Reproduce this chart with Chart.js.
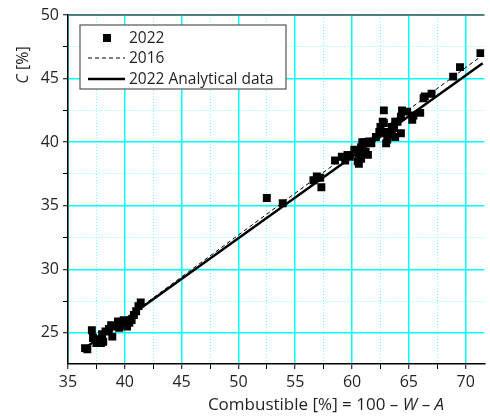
<!DOCTYPE html>
<html>
  <head>
    <title>C vs Combustible</title>
    <style>
      body { margin: 0; background: #fff; }
    </style>
  </head>
  <body>
    <canvas id="chart" width="490" height="419"></canvas>
    <script src="https://cdn.jsdelivr.net/npm/chart.js@4.4.0/dist/chart.umd.min.js"></script>
    <script>
      // measured points, 2022
      const combustible2022 = [
        36.5, 36.7, 37.1, 37.2, 37.5, 37.6, 37.9, 38.0, 38.1, 38.3, 38.6, 38.8, 38.9, 39.2, 39.4, 39.5, 39.7, 39.9, 40.2, 40.4, 40.6, 40.8, 41.0, 41.2, 41.4,
        52.5, 53.9, 56.6, 56.9, 57.2, 57.3,
        58.5, 59.1, 59.4, 59.6, 59.8, 60.2, 60.5, 60.6, 60.6, 60.8, 60.8, 60.9, 61.1, 61.2, 61.4, 61.5, 61.7, 62.1, 62.4, 62.5, 62.5, 62.7, 62.8, 62.8, 63.0,
        63.1, 63.1, 63.5, 63.5, 63.7, 63.8, 63.8, 64.0, 64.3, 64.3, 64.4, 64.85, 65.3, 65.4, 66.0, 66.3, 66.4, 67.0, 68.9, 69.5, 71.3
      ];
      const carbon2022 = [
        23.8, 23.7, 25.2, 24.6, 24.2, 24.5, 24.2, 24.9, 24.3, 25.1, 25.3, 25.6, 24.7, 25.5, 25.9, 25.4, 25.8, 26.0, 25.5, 25.8, 26.0, 26.4, 26.7, 27.1, 27.4,
        35.6, 35.2, 37.0, 37.3, 37.2, 36.45,
        38.55, 38.85, 38.55, 39.0, 38.85, 39.4, 38.5, 38.3, 39.1, 38.7, 39.6, 40.0, 40.0, 39.25, 39.0, 40.05, 39.9, 40.4, 40.8, 40.7, 41.2, 41.6, 42.5, 41.5, 39.9,
        40.8, 40.2, 41.2, 40.6, 41.1, 40.4, 41.6, 41.6, 42.0, 40.7, 42.5, 42.4, 41.75, 42.1, 42.3, 43.45, 43.6, 43.8, 45.15, 45.9, 47.0
      ];

      // fitted lines (end points)
      const fitX = [36.6, 71.5];
      const fit2016 = [23.87, 46.85];
      const fit2022 = [23.87, 46.2];

      const xTicks = [35, 37.5, 40, 42.5, 45, 47.5, 50, 52.5, 55, 57.5, 60, 62.5, 65, 67.5, 70];
      const yTicks = [25, 27.5, 30, 32.5, 35, 37.5, 40, 42.5, 45, 47.5, 50];

      const FONT = '"Open Sans", sans-serif';
      const TXT = '#231f20';

      const isMajor = v => v % 5 === 0;
      const gridColor = c => (c.tick && !isMajor(c.tick.value)) ? '#7ff' : '#0ff';
      const gridDash = c => (c.tick && !isMajor(c.tick.value)) ? [1, 2] : [];
      const gridWidth = c => (c.tick && !isMajor(c.tick.value)) ? 1 : 1.5;

      function richText(ctx, parts, cx, cy, size) {
        let total = 0;
        parts.forEach(p => {
          ctx.font = (p.i ? 'italic ' : '') + size + 'px ' + FONT;
          p.w = ctx.measureText(p.t).width;
          total += p.w;
        });
        let x = cx - total / 2;
        parts.forEach(p => {
          ctx.font = (p.i ? 'italic ' : '') + size + 'px ' + FONT;
          ctx.fillText(p.t, x, cy);
          x += p.w;
        });
      }

      const decor = {
        id: 'decor',
        afterDraw(chart) {
          const { ctx, chartArea: a } = chart;
          ctx.save();
          // top frame
          ctx.strokeStyle = '#555';
          ctx.lineWidth = 1.5;
          ctx.beginPath();
          ctx.moveTo(a.left, a.top);
          ctx.lineTo(a.right, a.top);
          ctx.stroke();

          // axis titles
          ctx.fillStyle = TXT;
          ctx.textBaseline = 'middle';
          ctx.textAlign = 'left';
          richText(ctx, [
            { t: 'Combustible [%] = 100 \u2013 ' }, { t: 'W', i: true }, { t: ' \u2013 ' }, { t: 'A', i: true }
          ], a.left + 258, 405, 17);
          ctx.save();
          ctx.translate(23, a.top + 50);
          ctx.rotate(-Math.PI / 2);
          richText(ctx, [{ t: 'C', i: true }, { t: ' [%]' }], 0, 0, 16);
          ctx.restore();

          // legend
          const lx = a.left + 12, ly = a.top + 10, lw = 206, lh = 64;
          ctx.fillStyle = '#fff';
          ctx.fillRect(lx, ly, lw, lh);
          ctx.strokeStyle = '#555';
          ctx.lineWidth = 1.2;
          ctx.strokeRect(lx, ly, lw, lh);
          const ds = chart.data.datasets;
          const rows = [ly + 13, ly + 33, ly + 54];
          ctx.fillStyle = '#000';
          ctx.fillRect(lx + 23, rows[0] - 4, 8, 8);
          ctx.strokeStyle = '#000';
          ctx.lineWidth = 1;
          ctx.setLineDash([4, 3]);
          ctx.beginPath();
          ctx.moveTo(lx + 8, rows[1]);
          ctx.lineTo(lx + 45, rows[1]);
          ctx.stroke();
          ctx.setLineDash([]);
          ctx.lineWidth = 2.5;
          ctx.beginPath();
          ctx.moveTo(lx + 8, rows[2]);
          ctx.lineTo(lx + 45, rows[2]);
          ctx.stroke();
          ctx.fillStyle = TXT;
          ctx.font = '15.5px ' + FONT;
          ds.forEach((d, i) => ctx.fillText(d.label, lx + 49, rows[i] + 1));
          ctx.restore();
        }
      };

      new Chart(document.getElementById('chart'), {
        type: 'scatter',
        data: {
          datasets: [
            {
              label: '2022',
              data: combustible2022.map((x, i) => ({ x: x, y: carbon2022[i] })),
              pointStyle: 'rect',
              pointRadius: 5.6,
              pointHoverRadius: 5.6,
              backgroundColor: '#000',
              borderWidth: 0,
              order: 3
            },
            {
              label: '2016',
              data: fitX.map((x, i) => ({ x: x, y: fit2016[i] })),
              showLine: true,
              borderColor: '#000',
              borderWidth: 1,
              borderDash: [4, 3],
              pointRadius: 0,
              order: 1
            },
            {
              label: '2022 Analytical data',
              data: fitX.map((x, i) => ({ x: x, y: fit2022[i] })),
              showLine: true,
              borderColor: '#000',
              borderWidth: 2.5,
              pointRadius: 0,
              order: 2
            }
          ]
        },
        options: {
          responsive: false,
          animation: false,
          layout: { padding: { top: 15, left: 0, right: 0, bottom: 0 } },
          plugins: { legend: { display: false }, tooltip: { enabled: false } },
          scales: {
            x: {
              min: 35,
              max: 71.65,
              afterBuildTicks: s => { s.ticks = xTicks.map(v => ({ value: v })); },
              afterFit: s => { s.height = 55; },
              ticks: {
                autoSkip: false,
                maxRotation: 0,
                padding: 4,
                color: TXT,
                font: { family: FONT, size: 16 },
                callback: v => isMajor(v) ? v : ''
              },
              grid: { color: gridColor, lineWidth: gridWidth, tickColor: '#000', tickLength: 5, tickWidth: 1 },
              border: { color: '#000', width: 1.5, dash: gridDash }
            },
            y: {
              min: 22.55,
              max: 50,
              afterBuildTicks: s => { s.ticks = yTicks.map(v => ({ value: v })); },
              afterFit: s => { s.width = 68; },
              ticks: {
                autoSkip: false,
                padding: 4,
                color: TXT,
                font: { family: FONT, size: 16 },
                callback: v => isMajor(v) ? v : ''
              },
              grid: { color: gridColor, lineWidth: gridWidth, tickColor: '#000', tickLength: 5, tickWidth: 1 },
              border: { color: '#000', width: 1.5, dash: gridDash }
            }
          }
        },
        plugins: [decor]
      });
    </script>
  </body>
</html>
